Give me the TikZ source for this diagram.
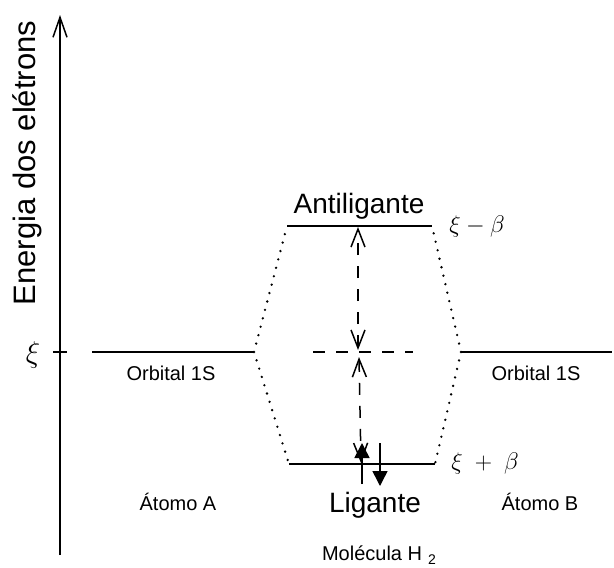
\documentclass[tikz,border=0pt]{standalone}
\usepackage{fix-cm}
\usepackage{fontspec}
\setmainfont{Liberation Sans}
\usetikzlibrary{arrows.meta}

\begin{document}
\begin{tikzpicture}[x=1pt, y=-1pt, line width=1.5pt,
  >={Straight Barb[length=18pt, width=14pt]},
  level/.style={line width=1.8pt},
  link/.style={line width=2.6pt, line cap=round, dash pattern=on 0pt off 8.7pt},
  gap/.style={line width=1.5pt, dash pattern=on 12pt off 11pt},
  spin/.style={-{Triangle[length=15pt, width=15pt]}, line width=1.5pt},
  lbl/.style={font=\fontsize{20}{24}\selectfont, anchor=base},
  big/.style={font=\fontsize{28}{32}\selectfont, anchor=base},
  sym/.style={font=\fontsize{24}{27}\selectfont}]
\useasboundingbox (0,0) rectangle (614,568);
\coordinate (O) at (60,555); \coordinate (top) at (60,15); \draw[-{Straight Barb[length=20pt, width=14pt]}] (O)--(top);
\coordinate (t1) at (53,352); \coordinate (t2) at (67,352); \draw (t1)--(t2);
\node[rotate=90, anchor=base, font=\fontsize{31}{34}\selectfont] (ylab) at (35,163) {Energia dos elétrons};
\node[font=\fontsize{30}{34}\selectfont] (xi) at (33,355) {$\xi$};
\coordinate (A1) at (92,352); \coordinate (A2) at (254,352); \coordinate (B1) at (461,352); \coordinate (B2) at (612,352);
\coordinate (S1) at (287,226); \coordinate (S2) at (432,226); \coordinate (L1) at (289,464); \coordinate (L2) at (435,464);
\draw[level] (A1)--(A2) (B1)--(B2) (S1)--(S2) (L1)--(L2);
\draw[link] (A2)--(S1) (A2)--(L1) (B1)--(S2) (B1)--(L2);
\coordinate (H1) at (313,352); \coordinate (H2) at (413,352); \draw[gap] (H1)--(H2);
\coordinate (M1) at (358,350); \coordinate (Stop) at (358,227); \draw[gap, <->] (M1)--(Stop);
\coordinate (M2) at (359,357); \coordinate (Lbot) at (361,463); \draw[gap, <->] (M2)--(Lbot);
\coordinate (u1) at (362,484); \coordinate (u2) at (362,443); \draw[spin] (u1)--(u2);
\coordinate (d1) at (380,443); \coordinate (d2) at (380,486); \draw[spin] (d1)--(d2);
\node[big] (anti) at (359,213) {Antiligante}; \node[big] (lig) at (375,512) {Ligante};
\node[sym] (xm) at (477,226) {$\xi - \beta$};
\node[sym] (xp) at (485,463) {$\xi\;+\;\beta$};
\node[lbl] (orbA) at (171,380) {Orbital 1S}; \node[lbl] (orbB) at (536,380) {Orbital 1S};
\node[lbl] (atA) at (178,510) {Átomo A}; \node[lbl] (atB) at (540,510) {Átomo B};
\node[lbl, anchor=base west] (mol) at (318,560) {Molécula H\hspace{6pt}\raisebox{-4pt}{\fontsize{14}{16}\selectfont 2}};
\end{tikzpicture}
\end{document}
